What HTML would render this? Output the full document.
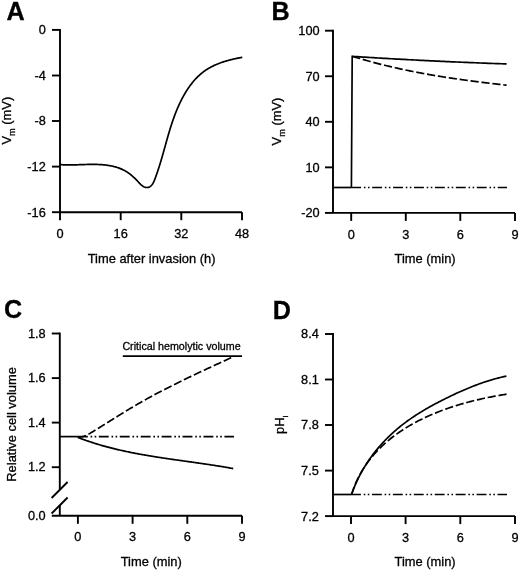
<!DOCTYPE html>
<html><head><meta charset="utf-8"><style>
html,body{margin:0;padding:0;background:#fff;}
svg{display:block;filter:grayscale(1);}
text{font-family:"Liberation Sans", sans-serif;fill:#000;stroke:#000;stroke-width:0.3px;}
</style></head><body>
<svg width="520" height="570" viewBox="0 0 520 570" stroke="#000" stroke-linecap="butt">
<text x="6.6" y="19.9" font-size="25.2" text-anchor="start" font-weight="bold">A</text>
<line x1="60" y1="29.0" x2="60" y2="212.2" stroke-width="1.9" />
<line x1="52" y1="29.9" x2="60" y2="29.9" stroke-width="1.9" />
<text x="45.8" y="34.3" font-size="12.75" text-anchor="end" >0</text>
<line x1="52" y1="75.5" x2="60" y2="75.5" stroke-width="1.9" />
<text x="45.8" y="79.9" font-size="12.75" text-anchor="end" >-4</text>
<line x1="52" y1="121.0" x2="60" y2="121.0" stroke-width="1.9" />
<text x="45.8" y="125.4" font-size="12.75" text-anchor="end" >-8</text>
<line x1="52" y1="166.6" x2="60" y2="166.6" stroke-width="1.9" />
<text x="45.8" y="171.0" font-size="12.75" text-anchor="end" >-12</text>
<line x1="52" y1="212.2" x2="60" y2="212.2" stroke-width="1.9" />
<text x="45.8" y="216.6" font-size="12.75" text-anchor="end" >-16</text>
<line x1="60" y1="212.2" x2="242" y2="212.2" stroke-width="1.9" />
<line x1="60" y1="212.2" x2="60" y2="220.2" stroke-width="1.9" />
<text x="60" y="237.8" font-size="12.75" text-anchor="middle" >0</text>
<line x1="120.7" y1="212.2" x2="120.7" y2="220.2" stroke-width="1.9" />
<text x="120.7" y="237.8" font-size="12.75" text-anchor="middle" >16</text>
<line x1="181.3" y1="212.2" x2="181.3" y2="220.2" stroke-width="1.9" />
<text x="181.3" y="237.8" font-size="12.75" text-anchor="middle" >32</text>
<line x1="242" y1="212.2" x2="242" y2="220.2" stroke-width="1.9" />
<text x="242" y="237.8" font-size="12.75" text-anchor="middle" >48</text>
<text x="151.6" y="262.5" font-size="12.9" text-anchor="middle" >Time after invasion (h)</text>
<text transform="translate(11.2,120.7) rotate(-90)" text-anchor="middle" font-size="12.9">V<tspan font-size="9.2" dy="4.2">m</tspan><tspan dy="-4.2"> (mV)</tspan></text>
<path d="M60.38,164.62 L61.06,164.67 L61.74,164.71 L62.42,164.75 L63.09,164.79 L63.77,164.82 L64.45,164.84 L65.12,164.87 L65.80,164.88 L66.47,164.90 L67.14,164.91 L67.82,164.92 L68.49,164.93 L69.16,164.93 L69.84,164.93 L70.51,164.93 L71.18,164.92 L71.85,164.91 L72.52,164.90 L73.19,164.89 L73.86,164.88 L74.53,164.86 L75.20,164.85 L75.87,164.83 L76.54,164.81 L77.21,164.79 L77.88,164.77 L78.55,164.75 L79.22,164.72 L79.89,164.70 L80.56,164.68 L81.22,164.65 L81.89,164.63 L82.56,164.61 L83.23,164.58 L83.90,164.56 L84.57,164.54 L85.24,164.52 L85.90,164.50 L86.57,164.48 L87.24,164.46 L87.91,164.45 L88.58,164.43 L89.25,164.42 L89.92,164.41 L90.59,164.40 L91.26,164.39 L91.92,164.39 L92.59,164.38 L93.27,164.39 L93.94,164.39 L94.61,164.40 L95.28,164.41 L95.95,164.42 L96.62,164.43 L97.29,164.45 L97.97,164.48 L98.64,164.50 L99.31,164.54 L99.99,164.57 L100.66,164.61 L101.33,164.66 L102.01,164.71 L102.69,164.76 L103.36,164.82 L104.04,164.88 L104.71,164.95 L105.39,165.03 L106.06,165.11 L106.74,165.19 L107.41,165.29 L108.08,165.38 L108.75,165.49 L109.42,165.60 L110.09,165.72 L110.75,165.84 L111.41,165.97 L112.08,166.11 L112.73,166.25 L113.39,166.40 L114.04,166.56 L114.69,166.73 L115.34,166.90 L115.98,167.09 L116.63,167.28 L117.26,167.48 L117.90,167.68 L118.52,167.90 L119.15,168.12 L119.77,168.36 L120.39,168.60 L121.00,168.85 L121.60,169.11 L122.20,169.38 L122.80,169.66 L123.39,169.95 L123.98,170.25 L124.56,170.56 L125.13,170.88 L125.70,171.20 L126.26,171.54 L126.81,171.89 L127.36,172.25 L127.91,172.62 L128.45,173.00 L128.99,173.39 L129.52,173.78 L130.05,174.19 L130.57,174.60 L131.09,175.03 L131.61,175.46 L132.12,175.90 L132.63,176.34 L133.14,176.80 L133.65,177.26 L134.15,177.73 L134.65,178.21 L135.15,178.70 L135.65,179.19 L136.15,179.69 L136.64,180.20 L137.14,180.71 L137.64,181.23 L138.13,181.75 L138.63,182.28 L139.12,182.81 L139.62,183.33 L140.13,183.84 L140.63,184.34 L141.14,184.82 L141.66,185.27 L142.19,185.69 L142.72,186.08 L143.26,186.43 L143.82,186.74 L144.38,187.00 L144.95,187.20 L145.53,187.36 L146.11,187.46 L146.69,187.51 L147.27,187.51 L147.84,187.44 L148.40,187.32 L148.94,187.15 L149.47,186.91 L149.98,186.62 L150.47,186.29 L150.93,185.91 L151.37,185.49 L151.78,185.03 L152.17,184.55 L152.53,184.03 L152.87,183.48 L153.19,182.91 L153.50,182.33 L153.79,181.72 L154.07,181.10 L154.34,180.46 L154.60,179.82 L154.85,179.17 L155.09,178.51 L155.34,177.86 L155.58,177.20 L155.82,176.55 L156.06,175.90 L156.29,175.24 L156.52,174.59 L156.75,173.94 L156.98,173.28 L157.21,172.63 L157.43,171.98 L157.65,171.32 L157.87,170.67 L158.09,170.02 L158.30,169.37 L158.51,168.71 L158.73,168.06 L158.94,167.41 L159.14,166.76 L159.35,166.10 L159.55,165.45 L159.76,164.80 L159.96,164.15 L160.16,163.50 L160.36,162.85 L160.56,162.20 L160.75,161.55 L160.95,160.90 L161.14,160.25 L161.33,159.60 L161.52,158.95 L161.71,158.30 L161.90,157.65 L162.09,157.00 L162.28,156.35 L162.46,155.70 L162.65,155.05 L162.83,154.40 L163.02,153.76 L163.20,153.11 L163.38,152.46 L163.57,151.81 L163.75,151.17 L163.93,150.52 L164.11,149.87 L164.29,149.23 L164.47,148.58 L164.65,147.94 L164.83,147.29 L165.01,146.65 L165.19,146.00 L165.37,145.36 L165.55,144.71 L165.72,144.07 L165.90,143.43 L166.08,142.78 L166.26,142.14 L166.44,141.50 L166.62,140.86 L166.80,140.21 L166.98,139.57 L167.16,138.93 L167.35,138.29 L167.53,137.65 L167.71,137.01 L167.90,136.37 L168.08,135.73 L168.26,135.09 L168.45,134.45 L168.64,133.82 L168.82,133.18 L169.01,132.54 L169.20,131.90 L169.39,131.27 L169.58,130.63 L169.78,130.00 L169.97,129.36 L170.16,128.73 L170.36,128.09 L170.56,127.46 L170.76,126.82 L170.96,126.19 L171.16,125.56 L171.36,124.93 L171.57,124.29 L171.78,123.66 L171.98,123.03 L172.19,122.40 L172.41,121.77 L172.62,121.14 L172.83,120.51 L173.05,119.88 L173.27,119.25 L173.49,118.63 L173.72,118.00 L173.94,117.37 L174.17,116.75 L174.40,116.12 L174.63,115.50 L174.87,114.87 L175.11,114.25 L175.35,113.62 L175.59,113.00 L175.83,112.38 L176.08,111.76 L176.33,111.13 L176.58,110.51 L176.84,109.89 L177.10,109.27 L177.36,108.65 L177.62,108.04 L177.89,107.42 L178.16,106.80 L178.43,106.18 L178.71,105.57 L178.99,104.95 L179.27,104.33 L179.56,103.72 L179.85,103.11 L180.14,102.49 L180.43,101.88 L180.73,101.27 L181.03,100.66 L181.34,100.05 L181.65,99.45 L181.96,98.84 L182.28,98.24 L182.60,97.63 L182.92,97.03 L183.25,96.43 L183.58,95.84 L183.91,95.24 L184.25,94.65 L184.59,94.06 L184.93,93.47 L185.28,92.88 L185.63,92.30 L185.99,91.72 L186.35,91.14 L186.71,90.57 L187.08,89.99 L187.45,89.43 L187.83,88.86 L188.20,88.30 L188.59,87.74 L188.98,87.18 L189.37,86.63 L189.76,86.08 L190.16,85.53 L190.56,84.99 L190.97,84.45 L191.38,83.91 L191.80,83.38 L192.22,82.86 L192.64,82.33 L193.07,81.82 L193.50,81.30 L193.94,80.79 L194.38,80.29 L194.83,79.79 L195.28,79.29 L195.73,78.80 L196.19,78.32 L196.65,77.84 L197.12,77.36 L197.59,76.89 L198.07,76.43 L198.55,75.97 L199.04,75.51 L199.53,75.07 L200.03,74.62 L200.53,74.19 L201.03,73.76 L201.54,73.33 L202.06,72.91 L202.58,72.50 L203.10,72.09 L203.63,71.69 L204.16,71.30 L204.70,70.91 L205.25,70.53 L205.79,70.16 L206.35,69.79 L206.91,69.43 L207.47,69.08 L208.04,68.73 L208.61,68.39 L209.18,68.05 L209.76,67.72 L210.35,67.40 L210.94,67.08 L211.53,66.77 L212.12,66.47 L212.72,66.17 L213.33,65.87 L213.93,65.59 L214.54,65.30 L215.16,65.03 L215.77,64.75 L216.39,64.49 L217.01,64.23 L217.63,63.97 L218.26,63.72 L218.89,63.47 L219.52,63.23 L220.16,63.00 L220.79,62.77 L221.43,62.54 L222.07,62.32 L222.71,62.10 L223.36,61.89 L224.00,61.68 L224.65,61.47 L225.30,61.27 L225.95,61.08 L226.60,60.89 L227.25,60.70 L227.90,60.52 L228.55,60.34 L229.21,60.16 L229.86,59.99 L230.52,59.82 L231.17,59.65 L231.83,59.49 L232.49,59.33 L233.14,59.18 L233.80,59.03 L234.45,58.88 L235.11,58.73 L235.77,58.59 L236.42,58.45 L237.07,58.32 L237.73,58.18 L238.38,58.05 L239.03,57.93 L239.68,57.80 L240.33,57.68 L240.98,57.56 L241.63,57.44 L242.28,57.32" stroke-width="1.7" fill="none"  stroke-linejoin="round"/>
<text x="271.5" y="19.6" font-size="25.2" text-anchor="start" font-weight="bold">B</text>
<line x1="333" y1="29.8" x2="333" y2="212.9" stroke-width="1.9" />
<line x1="325" y1="30.7" x2="333" y2="30.7" stroke-width="1.9" />
<text x="319.6" y="35.1" font-size="12.75" text-anchor="end" >100</text>
<line x1="325" y1="76.25" x2="333" y2="76.25" stroke-width="1.9" />
<text x="319.6" y="80.65" font-size="12.75" text-anchor="end" >70</text>
<line x1="325" y1="121.8" x2="333" y2="121.8" stroke-width="1.9" />
<text x="319.6" y="126.2" font-size="12.75" text-anchor="end" >40</text>
<line x1="325" y1="167.35" x2="333" y2="167.35" stroke-width="1.9" />
<text x="319.6" y="171.75" font-size="12.75" text-anchor="end" >10</text>
<line x1="325" y1="212.9" x2="333" y2="212.9" stroke-width="1.9" />
<text x="319.6" y="217.3" font-size="12.75" text-anchor="end" >-20</text>
<line x1="333" y1="212.9" x2="515" y2="212.9" stroke-width="1.9" />
<line x1="351.2" y1="212.9" x2="351.2" y2="220.9" stroke-width="1.9" />
<text x="351.2" y="238.5" font-size="12.75" text-anchor="middle" >0</text>
<line x1="405.8" y1="212.9" x2="405.8" y2="220.9" stroke-width="1.9" />
<text x="405.8" y="238.5" font-size="12.75" text-anchor="middle" >3</text>
<line x1="460.3" y1="212.9" x2="460.3" y2="220.9" stroke-width="1.9" />
<text x="460.3" y="238.5" font-size="12.75" text-anchor="middle" >6</text>
<line x1="515" y1="212.9" x2="515" y2="220.9" stroke-width="1.9" />
<text x="515" y="238.5" font-size="12.75" text-anchor="middle" >9</text>
<text x="425.1" y="262.5" font-size="12.9" text-anchor="middle" >Time (min)</text>
<text transform="translate(281,121.5) rotate(-90)" text-anchor="middle" font-size="12.9">V<tspan font-size="9.2" dy="4.2">m</tspan><tspan dy="-4.2"> (mV)</tspan></text>
<line x1="333" y1="187.5" x2="351.2" y2="187.5" stroke-width="1.7" />
<line x1="351.2" y1="187.5" x2="507" y2="187.5" stroke-width="1.7" stroke-dasharray="9.9 2.8 1.6 2.45 1.6 2.58"/>
<path d="M352.24,56.20 L353.19,56.50 L354.13,56.80 L355.08,57.09 L356.03,57.38 L356.98,57.67 L357.93,57.96 L358.87,58.24 L359.82,58.53 L360.77,58.81 L361.72,59.09 L362.68,59.37 L363.63,59.65 L364.58,59.92 L365.53,60.19 L366.48,60.46 L367.44,60.73 L368.39,61.00 L369.34,61.26 L370.30,61.53 L371.25,61.79 L372.21,62.05 L373.16,62.31 L374.12,62.56 L375.08,62.82 L376.03,63.07 L376.99,63.32 L377.95,63.57 L378.91,63.82 L379.86,64.06 L380.82,64.31 L381.78,64.55 L382.74,64.79 L383.70,65.03 L384.66,65.26 L385.62,65.50 L386.58,65.73 L387.54,65.97 L388.51,66.20 L389.47,66.43 L390.43,66.65 L391.39,66.88 L392.36,67.10 L393.32,67.32 L394.28,67.55 L395.25,67.77 L396.21,67.98 L397.18,68.20 L398.14,68.41 L399.11,68.63 L400.07,68.84 L401.04,69.05 L402.01,69.26 L402.97,69.47 L403.94,69.67 L404.91,69.88 L405.87,70.08 L406.84,70.28 L407.81,70.48 L408.78,70.68 L409.75,70.88 L410.72,71.07 L411.69,71.27 L412.66,71.46 L413.63,71.65 L414.60,71.84 L415.57,72.03 L416.54,72.22 L417.51,72.41 L418.48,72.59 L419.45,72.78 L420.42,72.96 L421.40,73.14 L422.37,73.32 L423.34,73.50 L424.31,73.68 L425.29,73.85 L426.26,74.03 L427.23,74.20 L428.21,74.37 L429.18,74.55 L430.16,74.72 L431.13,74.88 L432.10,75.05 L433.08,75.22 L434.05,75.39 L435.03,75.55 L436.01,75.71 L436.98,75.88 L437.96,76.04 L438.93,76.20 L439.91,76.36 L440.89,76.51 L441.86,76.67 L442.84,76.83 L443.82,76.98 L444.79,77.13 L445.77,77.29 L446.75,77.44 L447.73,77.59 L448.71,77.74 L449.68,77.89 L450.66,78.04 L451.64,78.18 L452.62,78.33 L453.60,78.47 L454.58,78.62 L455.56,78.76 L456.54,78.90 L457.52,79.04 L458.49,79.18 L459.47,79.32 L460.45,79.46 L461.43,79.60 L462.41,79.74 L463.39,79.87 L464.37,80.01 L465.36,80.14 L466.34,80.28 L467.32,80.41 L468.30,80.54 L469.28,80.67 L470.26,80.80 L471.24,80.93 L472.22,81.06 L473.20,81.19 L474.18,81.32 L475.17,81.45 L476.15,81.57 L477.13,81.70 L478.11,81.82 L479.09,81.95 L480.07,82.07 L481.06,82.19 L482.04,82.31 L483.02,82.44 L484.00,82.56 L484.98,82.68 L485.97,82.80 L486.95,82.92 L487.93,83.03 L488.91,83.15 L489.90,83.27 L490.88,83.39 L491.86,83.50 L492.84,83.62 L493.83,83.73 L494.81,83.85 L495.79,83.96 L496.77,84.08 L497.76,84.19 L498.74,84.30 L499.72,84.42 L500.71,84.53 L501.69,84.64 L502.67,84.75 L503.65,84.86 L504.64,84.97 L505.62,85.08 L506.60,85.19" stroke-width="1.7" fill="none" stroke-dasharray="8.2 2.8" stroke-linejoin="round"/>
<path d="M351.4,187.5 L352.20,56.36 L354.82,56.53 L357.43,56.70 L360.05,56.87 L362.66,57.04 L365.28,57.20 L367.89,57.36 L370.51,57.52 L373.12,57.68 L375.74,57.84 L378.35,58.00 L380.97,58.15 L383.59,58.31 L386.20,58.46 L388.82,58.61 L391.43,58.76 L394.05,58.90 L396.67,59.05 L399.28,59.19 L401.90,59.33 L404.51,59.47 L407.13,59.61 L409.75,59.75 L412.36,59.89 L414.98,60.02 L417.60,60.16 L420.21,60.29 L422.83,60.42 L425.45,60.55 L428.07,60.68 L430.68,60.81 L433.30,60.93 L435.92,61.06 L438.53,61.18 L441.15,61.30 L443.77,61.42 L446.39,61.54 L449.00,61.66 L451.62,61.78 L454.24,61.89 L456.86,62.01 L459.47,62.12 L462.09,62.23 L464.71,62.34 L467.33,62.45 L469.95,62.56 L472.56,62.67 L475.18,62.77 L477.80,62.88 L480.42,62.98 L483.04,63.08 L485.65,63.18 L488.27,63.29 L490.89,63.38 L493.51,63.48 L496.13,63.58 L498.75,63.68 L501.36,63.77 L503.98,63.87 L506.60,63.96" stroke-width="1.7" fill="none" stroke-linejoin="miter"/>
<text x="4.0" y="318.4" font-size="25.2" text-anchor="start" font-weight="bold">C</text>
<line x1="59.8" y1="332.55" x2="59.8" y2="489.5" stroke-width="1.9" />
<line x1="59.8" y1="505.0" x2="59.8" y2="515.8" stroke-width="1.9" />
<line x1="51.8" y1="333.5" x2="59.8" y2="333.5" stroke-width="1.9" />
<text x="45.7" y="337.7" font-size="12.75" text-anchor="end" >1.8</text>
<line x1="51.8" y1="378.1" x2="59.8" y2="378.1" stroke-width="1.9" />
<text x="45.7" y="382.3" font-size="12.75" text-anchor="end" >1.6</text>
<line x1="51.8" y1="422.6" x2="59.8" y2="422.6" stroke-width="1.9" />
<text x="45.7" y="426.8" font-size="12.75" text-anchor="end" >1.4</text>
<line x1="51.8" y1="467.2" x2="59.8" y2="467.2" stroke-width="1.9" />
<text x="45.7" y="471.4" font-size="12.75" text-anchor="end" >1.2</text>
<text x="45.7" y="520.0" font-size="12.75" text-anchor="end" >0.0</text>
<line x1="51.6" y1="498.0" x2="67.6" y2="482.0" stroke-width="1.9" />
<line x1="51.6" y1="513.5" x2="67.6" y2="497.5" stroke-width="1.9" />
<line x1="51.8" y1="515.8" x2="242" y2="515.8" stroke-width="1.9" />
<line x1="77.9" y1="515.8" x2="77.9" y2="523.8" stroke-width="1.9" />
<text x="77.9" y="541.4" font-size="12.75" text-anchor="middle" >0</text>
<line x1="132.6" y1="515.8" x2="132.6" y2="523.8" stroke-width="1.9" />
<text x="132.6" y="541.4" font-size="12.75" text-anchor="middle" >3</text>
<line x1="187.3" y1="515.8" x2="187.3" y2="523.8" stroke-width="1.9" />
<text x="187.3" y="541.4" font-size="12.75" text-anchor="middle" >6</text>
<line x1="242" y1="515.8" x2="242" y2="523.8" stroke-width="1.9" />
<text x="242" y="541.4" font-size="12.75" text-anchor="middle" >9</text>
<text x="151.2" y="566.0" font-size="12.9" text-anchor="middle" >Time (min)</text>
<text transform="translate(15.6,424.4) rotate(-90)" text-anchor="middle" font-size="12.9">Relative cell volume</text>
<text x="122.4" y="350.2" font-size="10.7" text-anchor="start" >Critical hemolytic volume</text>
<line x1="122.8" y1="356.1" x2="242" y2="356.1" stroke-width="1.7" />
<line x1="59.8" y1="436.6" x2="77.9" y2="436.6" stroke-width="1.7" />
<line x1="77.9" y1="436.6" x2="234" y2="436.6" stroke-width="1.7" stroke-dasharray="9.9 2.8 1.6 2.45 1.6 2.58"/>
<path d="M77.92,436.77 L79.09,436.86 L80.22,436.85 L81.33,436.76 L82.41,436.58 L83.47,436.33 L84.50,436.02 L85.52,435.64 L86.52,435.21 L87.50,434.74 L88.48,434.24 L89.44,433.70 L90.40,433.14 L91.35,432.57 L92.30,432.00 L93.25,431.42 L94.19,430.84 L95.14,430.25 L96.09,429.67 L97.03,429.09 L97.98,428.50 L98.92,427.92 L99.87,427.33 L100.81,426.74 L101.75,426.15 L102.70,425.57 L103.64,424.98 L104.58,424.39 L105.52,423.80 L106.47,423.20 L107.41,422.61 L108.35,422.02 L109.29,421.43 L110.23,420.84 L111.18,420.25 L112.12,419.66 L113.06,419.07 L114.00,418.48 L114.95,417.89 L115.89,417.30 L116.83,416.71 L117.78,416.12 L118.72,415.53 L119.66,414.95 L120.61,414.36 L121.56,413.78 L122.50,413.19 L123.45,412.61 L124.40,412.03 L125.34,411.45 L126.29,410.87 L127.24,410.29 L128.19,409.72 L129.15,409.14 L130.10,408.57 L131.05,408.00 L132.01,407.43 L132.96,406.86 L133.92,406.30 L134.88,405.74 L135.84,405.17 L136.80,404.62 L137.76,404.06 L138.72,403.50 L139.69,402.95 L140.65,402.40 L141.62,401.85 L142.58,401.30 L143.55,400.76 L144.52,400.22 L145.49,399.67 L146.46,399.13 L147.43,398.60 L148.41,398.06 L149.38,397.53 L150.36,396.99 L151.33,396.46 L152.31,395.93 L153.29,395.41 L154.27,394.88 L155.25,394.36 L156.23,393.83 L157.21,393.31 L158.19,392.79 L159.17,392.28 L160.16,391.76 L161.14,391.24 L162.13,390.73 L163.12,390.22 L164.10,389.71 L165.09,389.20 L166.08,388.69 L167.07,388.19 L168.06,387.68 L169.05,387.18 L170.04,386.67 L171.03,386.17 L172.03,385.67 L173.02,385.17 L174.02,384.68 L175.01,384.18 L176.01,383.69 L177.00,383.19 L178.00,382.70 L179.00,382.21 L179.99,381.72 L180.99,381.23 L181.99,380.74 L182.99,380.25 L183.99,379.77 L184.99,379.28 L185.99,378.80 L186.99,378.31 L187.99,377.83 L189.00,377.35 L190.00,376.87 L191.00,376.39 L192.00,375.91 L193.01,375.43 L194.01,374.95 L195.02,374.47 L196.02,374.00 L197.03,373.52 L198.03,373.05 L199.04,372.57 L200.04,372.10 L201.05,371.63 L202.05,371.16 L203.06,370.68 L204.07,370.21 L205.08,369.74 L206.08,369.27 L207.09,368.80 L208.10,368.34 L209.11,367.87 L210.11,367.40 L211.12,366.93 L212.13,366.46 L213.14,366.00 L214.15,365.53 L215.15,365.06 L216.16,364.60 L217.17,364.13 L218.18,363.67 L219.19,363.20 L220.20,362.74 L221.21,362.27 L222.21,361.81 L223.22,361.34 L224.23,360.88 L225.24,360.42 L226.25,359.95 L227.26,359.49 L228.26,359.02 L229.27,358.56 L230.28,358.10 L231.29,357.63 L232.29,357.17 L233.30,356.70 L234.31,356.24" stroke-width="1.7" fill="none" stroke-dasharray="8.2 2.8" stroke-linejoin="round"/>
<path d="M77.62,437.29 L78.55,437.66 L79.49,438.02 L80.43,438.38 L81.37,438.73 L82.30,439.08 L83.24,439.43 L84.19,439.77 L85.13,440.11 L86.07,440.44 L87.02,440.77 L87.96,441.10 L88.91,441.42 L89.86,441.74 L90.81,442.06 L91.76,442.37 L92.71,442.68 L93.66,442.99 L94.61,443.29 L95.56,443.59 L96.52,443.88 L97.47,444.17 L98.43,444.46 L99.39,444.75 L100.34,445.03 L101.30,445.31 L102.26,445.58 L103.22,445.86 L104.18,446.12 L105.15,446.39 L106.11,446.65 L107.07,446.91 L108.04,447.17 L109.00,447.43 L109.97,447.68 L110.94,447.93 L111.90,448.17 L112.87,448.41 L113.84,448.65 L114.81,448.89 L115.78,449.13 L116.75,449.36 L117.72,449.59 L118.70,449.82 L119.67,450.04 L120.64,450.26 L121.62,450.48 L122.59,450.70 L123.57,450.91 L124.54,451.13 L125.52,451.34 L126.50,451.54 L127.48,451.75 L128.46,451.95 L129.44,452.15 L130.42,452.35 L131.40,452.55 L132.38,452.75 L133.36,452.94 L134.34,453.13 L135.32,453.32 L136.30,453.51 L137.29,453.69 L138.27,453.88 L139.26,454.06 L140.24,454.24 L141.23,454.42 L142.21,454.59 L143.20,454.77 L144.18,454.94 L145.17,455.11 L146.16,455.28 L147.14,455.45 L148.13,455.62 L149.12,455.78 L150.11,455.95 L151.10,456.11 L152.09,456.27 L153.08,456.43 L154.06,456.59 L155.05,456.75 L156.05,456.91 L157.04,457.07 L158.03,457.22 L159.02,457.37 L160.01,457.53 L161.00,457.68 L161.99,457.83 L162.98,457.98 L163.97,458.13 L164.97,458.28 L165.96,458.42 L166.95,458.57 L167.94,458.72 L168.94,458.86 L169.93,459.00 L170.92,459.15 L171.92,459.29 L172.91,459.43 L173.90,459.58 L174.89,459.72 L175.89,459.86 L176.88,460.00 L177.87,460.14 L178.87,460.28 L179.86,460.42 L180.85,460.56 L181.85,460.70 L182.84,460.84 L183.83,460.98 L184.83,461.12 L185.82,461.26 L186.81,461.40 L187.81,461.54 L188.80,461.68 L189.79,461.81 L190.79,461.95 L191.78,462.09 L192.77,462.23 L193.76,462.37 L194.75,462.51 L195.75,462.65 L196.74,462.79 L197.73,462.94 L198.72,463.08 L199.71,463.22 L200.70,463.36 L201.69,463.50 L202.69,463.65 L203.68,463.79 L204.67,463.94 L205.66,464.08 L206.65,464.23 L207.63,464.38 L208.62,464.52 L209.61,464.67 L210.60,464.82 L211.59,464.97 L212.58,465.12 L213.56,465.27 L214.55,465.43 L215.54,465.58 L216.52,465.74 L217.51,465.89 L218.49,466.05 L219.48,466.21 L220.46,466.37 L221.45,466.53 L222.43,466.69 L223.41,466.86 L224.40,467.02 L225.38,467.19 L226.36,467.36 L227.34,467.53 L228.32,467.70 L229.30,467.87 L230.28,468.04 L231.26,468.22 L232.24,468.40 L233.22,468.57" stroke-width="1.7" fill="none"  stroke-linejoin="round"/>
<text x="272.8" y="319.4" font-size="25.2" text-anchor="start" font-weight="bold">D</text>
<line x1="333" y1="333.1" x2="333" y2="516.1" stroke-width="1.9" />
<line x1="325" y1="334.0" x2="333" y2="334.0" stroke-width="1.9" />
<text x="318.8" y="338.4" font-size="12.75" text-anchor="end" >8.4</text>
<line x1="325" y1="379.5" x2="333" y2="379.5" stroke-width="1.9" />
<text x="318.8" y="383.9" font-size="12.75" text-anchor="end" >8.1</text>
<line x1="325" y1="425.0" x2="333" y2="425.0" stroke-width="1.9" />
<text x="318.8" y="429.4" font-size="12.75" text-anchor="end" >7.8</text>
<line x1="325" y1="470.6" x2="333" y2="470.6" stroke-width="1.9" />
<text x="318.8" y="475.0" font-size="12.75" text-anchor="end" >7.5</text>
<line x1="325" y1="516.1" x2="333" y2="516.1" stroke-width="1.9" />
<text x="318.8" y="520.5" font-size="12.75" text-anchor="end" >7.2</text>
<line x1="333" y1="516.1" x2="515" y2="516.1" stroke-width="1.9" />
<line x1="351.0" y1="516.1" x2="351.0" y2="524.1" stroke-width="1.9" />
<text x="351.0" y="541.7" font-size="12.75" text-anchor="middle" >0</text>
<line x1="405.6" y1="516.1" x2="405.6" y2="524.1" stroke-width="1.9" />
<text x="405.6" y="541.7" font-size="12.75" text-anchor="middle" >3</text>
<line x1="460.3" y1="516.1" x2="460.3" y2="524.1" stroke-width="1.9" />
<text x="460.3" y="541.7" font-size="12.75" text-anchor="middle" >6</text>
<line x1="515" y1="516.1" x2="515" y2="524.1" stroke-width="1.9" />
<text x="515" y="541.7" font-size="12.75" text-anchor="middle" >9</text>
<text x="425.1" y="566.0" font-size="12.9" text-anchor="middle" >Time (min)</text>
<text transform="translate(284.1,424.9) rotate(-90)" text-anchor="middle" font-size="12.9">pH<tspan font-size="8" dy="3.5">i</tspan></text>
<line x1="333" y1="494.5" x2="351.0" y2="494.5" stroke-width="1.7" />
<line x1="351.0" y1="494.5" x2="507" y2="494.5" stroke-width="1.7" stroke-dasharray="9.9 2.8 1.6 2.45 1.6 2.58"/>
<path d="M351.54,494.61 L351.96,493.39 L352.39,492.17 L352.84,490.95 L353.30,489.74 L353.76,488.54 L354.24,487.34 L354.73,486.15 L355.23,484.96 L355.74,483.78 L356.26,482.61 L356.79,481.44 L357.34,480.27 L357.89,479.11 L358.45,477.96 L359.02,476.81 L359.61,475.67 L360.20,474.53 L360.80,473.40 L361.42,472.28 L362.04,471.16 L362.67,470.05 L363.31,468.94 L363.96,467.84 L364.63,466.75 L365.30,465.66 L365.98,464.58 L366.66,463.50 L367.36,462.43 L368.07,461.37 L368.79,460.31 L369.51,459.26 L370.25,458.22 L370.99,457.18 L371.74,456.15 L372.50,455.12 L373.27,454.10 L374.05,453.09 L374.83,452.09 L375.62,451.09 L376.43,450.09 L377.24,449.11 L378.06,448.13 L378.88,447.16 L379.72,446.19 L380.56,445.23 L381.41,444.28 L382.26,443.34 L383.13,442.40 L384.00,441.47 L384.88,440.54 L385.77,439.63 L386.66,438.72 L387.57,437.81 L388.47,436.92 L389.39,436.03 L390.31,435.15 L391.24,434.28 L392.18,433.41 L393.12,432.55 L394.07,431.70 L395.03,430.85 L395.99,430.02 L396.96,429.19 L397.94,428.37 L398.92,427.55 L399.91,426.74 L400.90,425.94 L401.90,425.15 L402.91,424.37 L403.92,423.59 L404.94,422.82 L405.96,422.06 L406.99,421.31 L408.02,420.56 L409.06,419.82 L410.11,419.09 L411.16,418.36 L412.21,417.64 L413.27,416.93 L414.33,416.22 L415.40,415.52 L416.47,414.82 L417.55,414.13 L418.63,413.45 L419.71,412.77 L420.80,412.10 L421.89,411.44 L422.99,410.78 L424.09,410.12 L425.19,409.47 L426.29,408.83 L427.40,408.19 L428.52,407.55 L429.63,406.92 L430.75,406.30 L431.87,405.68 L432.99,405.06 L434.12,404.45 L435.25,403.85 L436.38,403.25 L437.52,402.65 L438.65,402.06 L439.79,401.47 L440.93,400.88 L442.07,400.30 L443.22,399.72 L444.37,399.15 L445.51,398.58 L446.66,398.01 L447.82,397.45 L448.97,396.89 L450.12,396.33 L451.28,395.78 L452.44,395.23 L453.59,394.68 L454.75,394.14 L455.92,393.60 L457.08,393.06 L458.24,392.53 L459.41,392.01 L460.58,391.48 L461.75,390.96 L462.92,390.45 L464.09,389.94 L465.26,389.44 L466.44,388.94 L467.62,388.44 L468.80,387.95 L469.98,387.47 L471.16,386.99 L472.35,386.52 L473.53,386.05 L474.72,385.59 L475.91,385.14 L477.11,384.69 L478.30,384.24 L479.50,383.81 L480.70,383.38 L481.90,382.96 L483.10,382.54 L484.30,382.13 L485.51,381.73 L486.72,381.33 L487.93,380.95 L489.15,380.57 L490.36,380.19 L491.58,379.83 L492.80,379.47 L494.03,379.12 L495.25,378.78 L496.48,378.45 L497.71,378.13 L498.94,377.81 L500.18,377.51 L501.42,377.21 L502.66,376.92 L503.90,376.64 L505.14,376.37 L506.39,376.11" stroke-width="1.7" fill="none"  stroke-linejoin="round"/>
<path d="M351.42,494.90 L351.81,493.65 L352.21,492.41 L352.62,491.18 L353.05,489.96 L353.49,488.75 L353.94,487.55 L354.40,486.36 L354.88,485.18 L355.37,484.01 L355.87,482.85 L356.38,481.70 L356.90,480.56 L357.44,479.42 L357.99,478.30 L358.55,477.18 L359.12,476.08 L359.70,474.98 L360.29,473.90 L360.90,472.82 L361.51,471.75 L362.14,470.69 L362.78,469.64 L363.43,468.60 L364.08,467.56 L364.75,466.54 L365.43,465.53 L366.12,464.52 L366.82,463.52 L367.53,462.54 L368.25,461.56 L368.98,460.58 L369.72,459.62 L370.47,458.67 L371.23,457.72 L372.00,456.79 L372.78,455.86 L373.57,454.94 L374.36,454.03 L375.17,453.13 L375.98,452.23 L376.80,451.35 L377.64,450.47 L378.48,449.60 L379.32,448.74 L380.18,447.88 L381.05,447.04 L381.92,446.20 L382.80,445.37 L383.69,444.55 L384.58,443.74 L385.49,442.93 L386.40,442.14 L387.32,441.35 L388.25,440.57 L389.18,439.79 L390.12,439.03 L391.07,438.27 L392.03,437.52 L392.99,436.77 L393.96,436.04 L394.93,435.31 L395.92,434.59 L396.90,433.88 L397.90,433.17 L398.90,432.47 L399.91,431.78 L400.92,431.10 L401.94,430.42 L402.96,429.75 L403.99,429.09 L405.03,428.43 L406.07,427.79 L407.11,427.15 L408.16,426.51 L409.22,425.89 L410.28,425.27 L411.35,424.65 L412.42,424.05 L413.50,423.45 L414.58,422.86 L415.66,422.27 L416.75,421.69 L417.85,421.12 L418.95,420.55 L420.05,420.00 L421.15,419.44 L422.26,418.90 L423.38,418.36 L424.50,417.82 L425.62,417.30 L426.75,416.78 L427.87,416.26 L429.01,415.76 L430.14,415.26 L431.28,414.76 L432.42,414.27 L433.57,413.79 L434.72,413.31 L435.87,412.84 L437.02,412.38 L438.18,411.92 L439.34,411.47 L440.50,411.02 L441.66,410.58 L442.83,410.14 L444.00,409.71 L445.17,409.29 L446.34,408.87 L447.51,408.46 L448.69,408.05 L449.87,407.65 L451.05,407.26 L452.23,406.87 L453.41,406.48 L454.59,406.10 L455.78,405.73 L456.96,405.36 L458.15,405.00 L459.34,404.64 L460.53,404.29 L461.72,403.94 L462.91,403.60 L464.10,403.26 L465.29,402.93 L466.48,402.60 L467.67,402.28 L468.86,401.96 L470.06,401.65 L471.25,401.34 L472.44,401.04 L473.63,400.74 L474.82,400.45 L476.01,400.16 L477.20,399.88 L478.39,399.60 L479.58,399.32 L480.77,399.05 L481.96,398.79 L483.15,398.53 L484.33,398.27 L485.52,398.02 L486.70,397.77 L487.88,397.53 L489.06,397.29 L490.24,397.05 L491.42,396.82 L492.59,396.60 L493.77,396.38 L494.94,396.16 L496.11,395.94 L497.28,395.73 L498.44,395.53 L499.61,395.33 L500.77,395.13 L501.93,394.93 L503.08,394.74 L504.23,394.56 L505.38,394.37 L506.53,394.19" stroke-width="1.7" fill="none" stroke-dasharray="8.2 2.8" stroke-linejoin="round"/>
</svg>
</body></html>
